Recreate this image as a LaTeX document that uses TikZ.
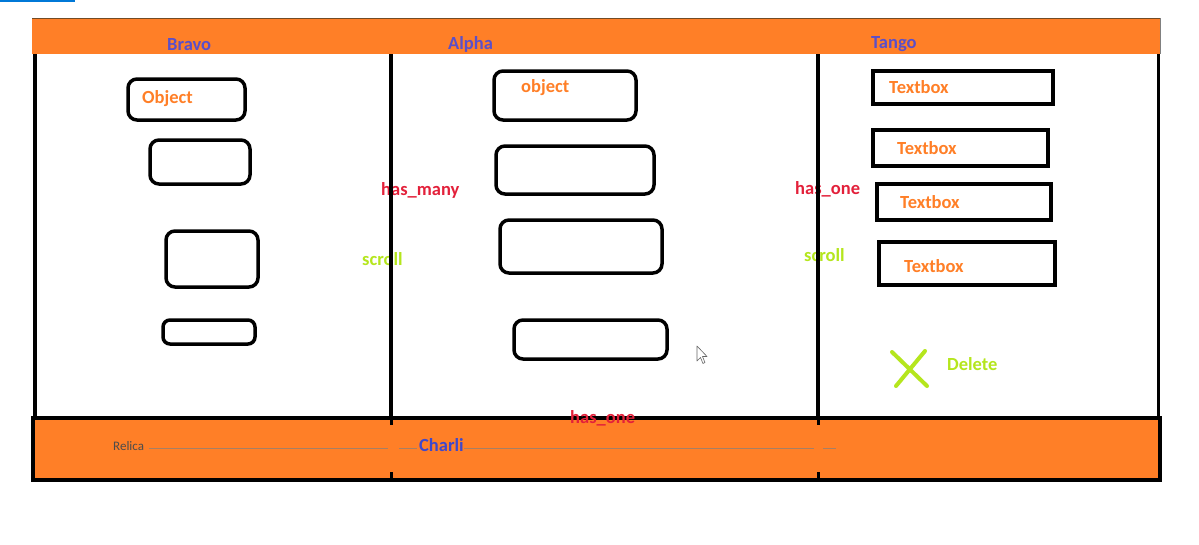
\documentclass[tikz,border=0pt]{standalone}
\usepackage{fontspec}
\setmainfont{Carlito}
\definecolor{paintorange}{HTML}{FF7F27}
\definecolor{hdrblue}{HTML}{5B4FC9}
\definecolor{charblue}{HTML}{3F48CC}
\definecolor{relred}{HTML}{E3203A}
\definecolor{lime}{HTML}{B5E61D}
\definecolor{winblue}{HTML}{0078D7}
\begin{document}
\begin{tikzpicture}[x=1pt,y=-1pt,
  lbl/.style={anchor=base west,inner sep=0pt,font=\fontsize{18.5}{20}\selectfont\bfseries},
  hdr/.style={lbl,text=hdrblue},
  otext/.style={lbl,text=paintorange},
  rtext/.style={lbl,text=relred},
  gtext/.style={lbl,text=lime},
  rbox/.style={draw=black,line width=3.5pt,rounded corners=9pt,inner sep=0pt},
  tbox/.style={draw=black,line width=3.5pt,inner sep=0pt},
  vline/.style={line width=3.5pt,black},
  dotline/.style={color=gray!70!paintorange,line width=1pt}]
\useasboundingbox (0,0) rectangle (1199,544);
\fill[white] (0,0) rectangle (1199,544);
\fill[winblue] (0,0) rectangle (75,2);
% header
\fill[paintorange] (32,18) rectangle (1160,54);
\draw[line width=0.8pt,brown!60!black] (32,18) -- (1160,18);
\draw[line width=0.8pt,gray] (1160,18) -- (1160,54);
% footer
\draw[line width=4pt,fill=paintorange] (33,418) rectangle (1160,480);
% labels in body
\node[rtext] (hm) at (381,195) {has\_many};
\node[gtext] (sc1) at (362,265) {scroll};
\node[rtext] (ho1) at (795,194) {has\_one};
\node[gtext] (sc2) at (804,261) {scroll};
% column lines
\draw[vline] (35,54) -- (35,418);
\draw[vline,line width=3pt] (1158,54) -- (1158,418);
\coordinate (d1t) at (391,54); \coordinate (d1b) at (391,418);
\coordinate (d2t) at (818,54); \coordinate (d2b) at (818,418);
\draw[vline] (d1t) -- (d1b);
\draw[vline] (d2t) -- (d2b);
\draw[line width=3pt] (391,418) -- (391,425) (391,472) -- (391,480);
\draw[line width=3pt] (818,418) -- (818,425) (818,472) -- (818,480);
% header labels
\node[hdr] (bravo) at (167,50) {Bravo};
\node[hdr] (alpha) at (448,49) {Alpha};
\node[hdr] (tango) at (871,48) {Tango};
% Bravo boxes
\node[rbox,minimum width=117pt,minimum height=41pt] (b1) at (186.5,99.5) {};
\node[rbox,minimum width=100pt,minimum height=44pt] (b2) at (200,162) {};
\node[rbox,minimum width=92pt,minimum height=56pt] (b3) at (212,259) {};
\node[rbox,minimum width=92pt,minimum height=24pt,rounded corners=7pt] (b4) at (209,332) {};
\node[otext] (objB) at (142,103) {Object};
% Alpha boxes
\node[rbox,minimum width=142pt,minimum height=49pt] (a1) at (565,95.5) {};
\node[rbox,minimum width=158pt,minimum height=48pt] (a2) at (575,170) {};
\node[rbox,minimum width=162pt,minimum height=53pt] (a3) at (581,246.5) {};
\node[rbox,minimum width=153pt,minimum height=39pt] (a4) at (590.5,339.5) {};
\node[otext] (objA) at (521,92) {object};
% Tango boxes
\node[tbox,minimum width=180pt,minimum height=33pt] (t1) at (963,87.5) {};
\node[tbox,minimum width=175pt,minimum height=36pt] (t2) at (960.5,148) {};
\node[tbox,minimum width=174pt,minimum height=36pt] (t3) at (964,202) {};
\node[tbox,minimum width=176pt,minimum height=43pt] (t4) at (967,263.5) {};
\node[otext] (tx1) at (889,93) {Textbox};
\node[otext] (tx2) at (897,154) {Textbox};
\node[otext] (tx3) at (900,208) {Textbox};
\node[otext] (tx4) at (904,272) {Textbox};
% delete
\coordinate (x1) at (892,352); \coordinate (x2) at (927,386);
\coordinate (x3) at (925,351); \coordinate (x4) at (896,386);
\draw[lime,line width=4pt,line cap=round] (x1) -- (x2) (x3) -- (x4);
\node[gtext] (del) at (947,370) {Delete};
% cursor
\draw[gray!80!black,fill=white,line width=0.6pt,line join=round]
  (697,346) -- (697,361) -- (700.5,357.5) -- (703,363.5) -- (705,362.5) -- (702.5,356.5) -- (707,356.5) -- cycle;
% footer content
\node[rtext] (ho2) at (570,423) {has\_one};
\node[anchor=base west,inner sep=0pt,font=\fontsize{13}{14}\selectfont,text=gray!60!black] (rel) at (113,450) {Relica};
\coordinate (r0) at (149,448); \coordinate (r1) at (388,448);
\coordinate (c0) at (399,448); \coordinate (c1) at (417,448);
\coordinate (c2) at (464,448); \coordinate (c3) at (814,448);
\coordinate (e0) at (823,448); \coordinate (e1) at (836,448);
\draw[dotline] (r0) -- (r1);
\draw[dotline] (c0) -- (c1);
\draw[dotline] (c2) -- (c3);
\draw[dotline] (e0) -- (e1);
\node[lbl,text=charblue] (charli) at (419,451) {Charli};
\end{tikzpicture}
\end{document}
